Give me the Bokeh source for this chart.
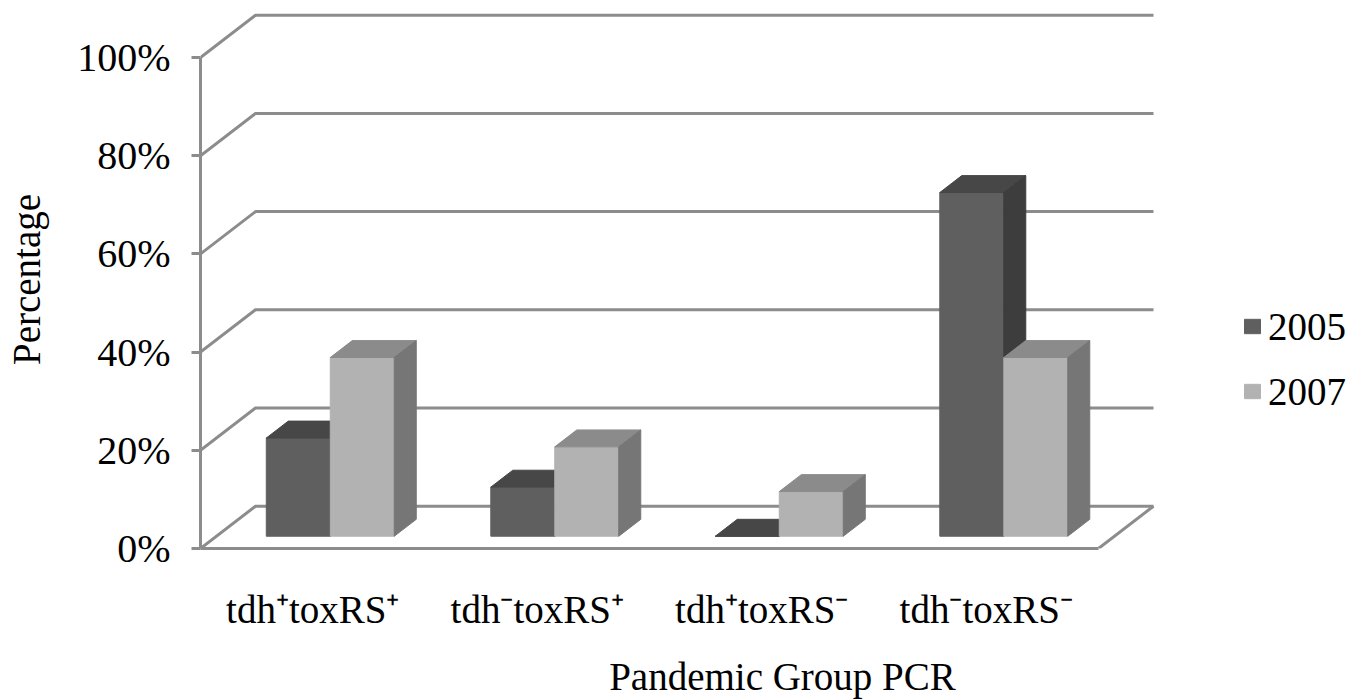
import numpy as np
from bokeh.plotting import figure
from bokeh.models import Range1d, FixedTicker, Legend, LegendItem
from bokeh.embed import file_html
from bokeh.resources import INLINE

# ---------------- data ----------------
categories = ["tdh\u207atoxRS\u207a", "tdh\u207btoxRS\u207a", "tdh\u207atoxRS\u207b", "tdh\u207btoxRS\u207b"]
years = ["2005", "2007"]
values_2005 = [20.0, 10.0, 0.0, 70.0]
values_2007 = [36.4, 18.2, 9.1, 36.4]
y_ticks = [0, 20, 40, 60, 80, 100]
y_tick_labels = ["0%", "20%", "40%", "60%", "80%", "100%"]
x_title = "Pandemic Group PCR"
y_title = "Percentage"

# ---------------- layout / style ----------------
W, H = 1364, 700
LEFT, RIGHT, TOP, BOTTOM = 200, 0, 10, 152
PX_X = 224.5          # pixels per category
PX_Y = 4.91           # pixels per percent
FRAME_W = W - LEFT - RIGHT
FRAME_H = H - TOP - BOTTOM
X_END = FRAME_W / PX_X
Y_END = FRAME_H / PX_Y
DX = 55 / PX_X        # depth offset (x, data units)
DY = 42.3 / PX_Y      # depth offset (y, data units)
F0, F1 = 0.29, 0.69   # bar depth span (fraction of full depth)
BAR_OFF, BAR_W = 0.222, 0.285
FONT = "Liberation Serif"
FS = "39px"
FS_Y = "40px"
GRID = "#8c8c8c"
colors = {
    "2005": ("#5f5f5f", "#474747", "#3d3d3d"),
    "2007": ("#b2b2b2", "#8b8b8b", "#767676"),
}

n = len(categories)
p = figure(width=W, height=H, x_range=Range1d(0, X_END), y_range=Range1d(0, Y_END),
           min_border_left=LEFT, min_border_right=RIGHT, min_border_top=TOP,
           min_border_bottom=BOTTOM, toolbar_location=None, output_backend="svg")
p.outline_line_color = None
p.xgrid.visible = False
p.ygrid.visible = False
p.background_fill_color = "white"
p.border_fill_color = "white"

# back wall gridlines + left wall diagonals
gx, gy = [], []
for t in y_ticks:
    gx.append([0, DX, n + DX])
    gy.append([t, t + DY, t + DY])
gx.append([n, n + DX])
gy.append([0, DY])
p.multi_line(gx, gy, line_color=GRID, line_width=3)


def faces(vals, s):
    fx, fy, tx, ty, sx, sy = [], [], [], [], [], []
    a0x, a0y = F0 * DX, F0 * DY
    a1x, a1y = F1 * DX, F1 * DY
    for k, v in enumerate(vals):
        x0 = k + BAR_OFF + s * BAR_W
        x1 = x0 + BAR_W
        fx.append([x0 + a0x, x1 + a0x, x1 + a0x, x0 + a0x])
        fy.append([a0y, a0y, v + a0y, v + a0y])
        tx.append([x0 + a0x, x1 + a0x, x1 + a1x, x0 + a1x])
        ty.append([v + a0y, v + a0y, v + a1y, v + a1y])
        sx.append([x1 + a0x, x1 + a1x, x1 + a1x, x1 + a0x])
        sy.append([a0y, a1y, v + a1y, v + a0y])
    return (fx, fy), (tx, ty), (sx, sy)


items = []
for s, (yr, vals) in enumerate(zip(years, [values_2005, values_2007])):
    front, top, side = faces(vals, s)
    cf, ct, cs = colors[yr]
    rf = p.patches(front[0], front[1], fill_color=cf, line_color=cf, line_width=1)
    p.patches(top[0], top[1], fill_color=ct, line_color=ct, line_width=1)
    p.patches(side[0], side[1], fill_color=cs, line_color=cs, line_width=1)
    items.append(LegendItem(label=yr, renderers=[rf]))

# axes
p.yaxis.bounds = (0, 100)
p.yaxis.ticker = FixedTicker(ticks=y_ticks)
p.yaxis.major_label_overrides = {t: l for t, l in zip(y_ticks, y_tick_labels)}
p.yaxis.minor_tick_line_color = None
p.yaxis.major_tick_out = 9
p.yaxis.major_tick_in = 0
p.yaxis.major_tick_line_color = GRID
p.yaxis.major_tick_line_width = 3
p.yaxis.axis_line_color = GRID
p.yaxis.axis_line_width = 3
p.yaxis.major_label_standoff = 21
p.yaxis.axis_label = y_title
p.yaxis.axis_label_standoff = 26

p.xaxis.bounds = (0, n)
p.xaxis.ticker = FixedTicker(ticks=[k + 0.5 for k in range(n)])
p.xaxis.major_label_overrides = {k + 0.5: c for k, c in enumerate(categories)}
p.xaxis.minor_tick_line_color = None
p.xaxis.major_tick_line_color = None
p.xaxis.major_tick_out = 0
p.xaxis.major_tick_in = 0
p.xaxis.axis_line_color = GRID
p.xaxis.axis_line_width = 3
p.xaxis.major_label_standoff = 39
p.xaxis.axis_label = x_title
p.xaxis.axis_label_standoff = 21

for ax in (p.xaxis[0], p.yaxis[0]):
    ax.major_label_text_font = FONT
    ax.major_label_text_font_size = FS
    ax.major_label_text_color = "black"
    ax.axis_label_text_font = FONT
    ax.axis_label_text_font_size = FS
    ax.axis_label_text_font_style = "normal"
    ax.axis_label_text_color = "black"
p.yaxis.major_label_text_font_size = FS_Y

legend = Legend(items=items, location=(1042, 134), padding=0, margin=0, spacing=19,
                glyph_width=20, glyph_height=18, label_height=46, label_standoff=6,
                label_text_font=FONT, label_text_font_size=FS, label_text_color="black",
                border_line_color=None, background_fill_alpha=0)
p.add_layout(legend)

open("out.html", "w").write(file_html(p, INLINE))
